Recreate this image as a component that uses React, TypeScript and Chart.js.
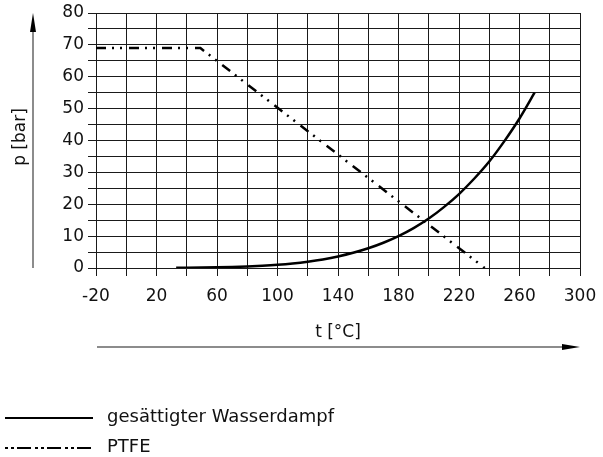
import React, { useEffect, useRef } from "react";
import { Chart, registerables } from "chart.js";

Chart.register(...registerables);

const steamT = [33, 40, 50, 60, 70, 80, 90, 100, 110, 120, 130, 140, 150, 160, 170, 180, 190, 200, 210, 220, 230, 240, 250, 260, 270];
const steamP = [0.05, 0.07, 0.12, 0.2, 0.31, 0.47, 0.7, 1.01, 1.43, 1.99, 2.7, 3.61, 4.76, 6.18, 7.92, 10.0, 12.5, 15.5, 19.1, 23.2, 28.0, 33.4, 39.8, 46.9, 55.0];
const ptfeT = [-20, 49, 237];
const ptfeP = [69, 69, 0];

const xTickLabels = [-20, 20, 60, 100, 140, 180, 220, 260, 300];
const yTickLabels = [0, 10, 20, 30, 40, 50, 60, 70, 80];

const seriesNames = ["gesättigter Wasserdampf", "PTFE"];
const xTitle = "t [°C]";
const yTitle = "p [bar]";

const FONT = "'DejaVu Sans', sans-serif";
const PTFE_DASH = [10, 6, 2, 6, 2, 7];

const overlay = {
  id: "overlay",
  afterDraw(chart: any) {
    const ctx = chart.ctx as CanvasRenderingContext2D;
    const area = chart.chartArea;
    ctx.save();
    // y axis arrow
    ctx.strokeStyle = "#666";
    ctx.lineWidth = 1.5;
    ctx.beginPath();
    ctx.moveTo(33, area.bottom);
    ctx.lineTo(33, 28);
    ctx.stroke();
    ctx.fillStyle = "#000";
    ctx.beginPath();
    ctx.moveTo(33, 13);
    ctx.lineTo(36, 32);
    ctx.lineTo(30, 32);
    ctx.closePath();
    ctx.fill();
    // x axis arrow
    ctx.beginPath();
    ctx.moveTo(97, 347);
    ctx.lineTo(566, 347);
    ctx.stroke();
    ctx.beginPath();
    ctx.moveTo(580, 347);
    ctx.lineTo(562, 344);
    ctx.lineTo(562, 350);
    ctx.closePath();
    ctx.fill();
    // titles
    ctx.fillStyle = "#111";
    ctx.font = `17px ${FONT}`;
    ctx.textAlign = "center";
    ctx.textBaseline = "middle";
    ctx.fillText(xTitle, 338, 333);
    ctx.save();
    ctx.translate(21, 137);
    ctx.rotate(-Math.PI / 2);
    ctx.fillText(yTitle, 0, 0);
    ctx.restore();
    // legend
    ctx.strokeStyle = "#000";
    ctx.lineWidth = 2;
    ctx.beginPath();
    ctx.moveTo(5, 418);
    ctx.lineTo(93, 418);
    ctx.stroke();
    ctx.setLineDash([3, 3, 3, 3, 14, 4]);
    ctx.beginPath();
    ctx.moveTo(5, 448);
    ctx.lineTo(93, 448);
    ctx.stroke();
    ctx.setLineDash([]);
    ctx.textAlign = "left";
    ctx.font = `18px ${FONT}`;
    ctx.fillText(seriesNames[0], 107, 417);
    ctx.fillText(seriesNames[1], 107, 447);
    ctx.restore();
  },
};

export default function App() {
  const ref = useRef<HTMLCanvasElement>(null);
  useEffect(() => {
    document.body.style.margin = "0";
    const ctx = ref.current!.getContext("2d")!;
    const chart = new Chart(ctx, {
      type: "scatter",
      data: {
        datasets: [
          {
            label: seriesNames[0],
            data: steamT.map((t, i) => ({ x: t, y: steamP[i] })),
            showLine: true,
            borderColor: "#000",
            borderWidth: 2.5,
            pointRadius: 0,
            cubicInterpolationMode: "monotone",
          },
          {
            label: seriesNames[1],
            data: ptfeT.map((t, i) => ({ x: t, y: ptfeP[i] })),
            showLine: true,
            borderColor: "#000",
            borderWidth: 2.5,
            borderDash: PTFE_DASH,
            pointRadius: 0,
            tension: 0,
          },
        ],
      },
      options: {
        responsive: false,
        animation: false,
        layout: { padding: { left: 0, top: 13, right: 23, bottom: 0 } },
        plugins: { legend: { display: false }, tooltip: { enabled: false } },
        scales: {
          x: {
            type: "linear",
            min: -20,
            max: 300,
            afterFit(scale: any) {
              scale.height = 189;
              scale.paddingLeft = 0;
              scale.paddingRight = 0;
            },
            ticks: {
              stepSize: 20,
              autoSkip: false,
              maxRotation: 0,
              padding: 10,
              color: "#111",
              font: { family: FONT, size: 17 },
              callback: (v: any) => (xTickLabels.includes(Number(v)) ? String(v) : ""),
            },
            grid: { color: "#1a1a1a", lineWidth: 1, tickLength: 8 },
            border: { color: "#1a1a1a", width: 1 },
          },
          y: {
            type: "linear",
            min: 0,
            max: 80,
            afterFit(scale: any) {
              scale.width = 96;
              scale.paddingTop = 0;
              scale.paddingBottom = 0;
            },
            ticks: {
              stepSize: 5,
              autoSkip: false,
              padding: 4,
              color: "#111",
              font: { family: FONT, size: 17 },
              callback: (v: any) => (yTickLabels.includes(Number(v)) ? String(v) : ""),
            },
            grid: { color: "#1a1a1a", lineWidth: 1, tickLength: 8 },
            border: { color: "#1a1a1a", width: 1 },
          },
        },
      },
      plugins: [overlay],
    });
    return () => chart.destroy();
  }, []);
  return (
    <div style={{ position: "absolute", left: 0, top: 0, width: 603, height: 457 }}>
      <canvas ref={ref} width={603} height={457} style={{ display: "block" }} />
    </div>
  );
}
